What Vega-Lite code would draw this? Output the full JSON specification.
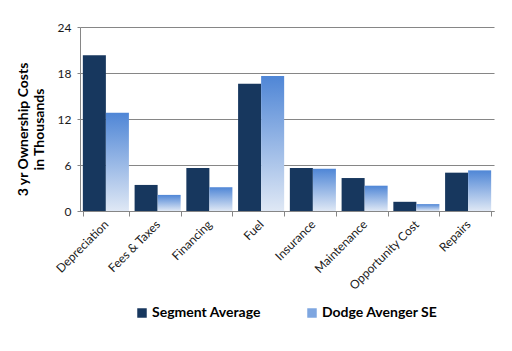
{
  "$schema": "https://vega.github.io/schema/vega-lite/v6.json",
  "width": 414,
  "height": 184,
  "autosize": "none",
  "padding": {"left": 80, "top": 27, "right": 18, "bottom": 140},
  "background": "white",
  "config": {
    "font": "Lato",
    "view": {"stroke": null},
    "axis": {"labelFont": "Lato", "titleFont": "Lato", "labelColor": "#1a1a1a", "domainColor": "#868686", "tickColor": "#868686", "gridColor": "#868686"}
  },
  "data": {
    "values": [
      {"category": "Depreciation", "series": "Segment Average", "value": 20.3},
      {"category": "Depreciation", "series": "Dodge Avenger SE", "value": 12.8},
      {"category": "Fees & Taxes", "series": "Segment Average", "value": 3.4},
      {"category": "Fees & Taxes", "series": "Dodge Avenger SE", "value": 2.1},
      {"category": "Financing", "series": "Segment Average", "value": 5.6},
      {"category": "Financing", "series": "Dodge Avenger SE", "value": 3.1},
      {"category": "Fuel", "series": "Segment Average", "value": 16.6},
      {"category": "Fuel", "series": "Dodge Avenger SE", "value": 17.6},
      {"category": "Insurance", "series": "Segment Average", "value": 5.6},
      {"category": "Insurance", "series": "Dodge Avenger SE", "value": 5.5},
      {"category": "Maintenance", "series": "Segment Average", "value": 4.3},
      {"category": "Maintenance", "series": "Dodge Avenger SE", "value": 3.3},
      {"category": "Opportunity Cost", "series": "Segment Average", "value": 1.2},
      {"category": "Opportunity Cost", "series": "Dodge Avenger SE", "value": 0.9},
      {"category": "Repairs", "series": "Segment Average", "value": 5.0},
      {"category": "Repairs", "series": "Dodge Avenger SE", "value": 5.3}
    ]
  },
  "mark": {"type": "bar"},
  "encoding": {
    "x": {
      "field": "category", "type": "nominal", "sort": null,
      "scale": {"paddingInner": 0.11, "paddingOuter": 0.055},
      "axis": {"title": null, "labelAngle": -45, "labelAlign": "right", "labelBaseline": "middle", "labelFontSize": 12, "labelPadding": 6, "tickBand": "extent", "tickSize": 5, "domainColor": "#868686", "grid": false}
    },
    "xOffset": {"field": "series", "type": "nominal", "sort": ["Segment Average", "Dodge Avenger SE"], "scale": {"paddingInner": 0, "paddingOuter": 0}},
    "y": {
      "field": "value", "type": "quantitative",
      "scale": {"domain": [0, 24]},
      "axis": {"values": [0, 6, 12, 18, 24], "title": ["3 yr Ownership Costs", "in Thousands"], "titleFontSize": 14, "titleFontWeight": "bold", "titleColor": "#000000", "titlePadding": 11, "titleLineHeight": 16, "titleY": 102, "labelFontSize": 12, "tickSize": 3, "labelPadding": 6, "grid": true, "gridWidth": 1.2}
    },
    "color": {
      "field": "series", "type": "nominal",
      "scale": {"domain": ["Segment Average", "Dodge Avenger SE"], "range": ["#17375e", "#7ea6e0"]},
      "condition": {
        "test": "datum.series === 'Dodge Avenger SE'",
        "value": {"gradient": "linear", "x1": 0, "y1": 0, "x2": 0, "y2": 1, "stops": [{"offset": 0, "color": "#4f86d6"}, {"offset": 1, "color": "#dfe8f5"}]}
      },
      "legend": {
        "title": null,
        "orient": "none",
        "legendX": 55,
        "legendY": 279,
        "direction": "horizontal",
        "symbolType": "square",
        "symbolSize": 90,
        "symbolStrokeWidth": 0,
        "labelFontSize": 14,
        "labelFontWeight": "bold",
        "labelColor": "#000000",
        "labelOffset": 3,
        "columnPadding": 44,
        "encode": {
          "symbols": {
            "update": {
              "fill": {"signal": "datum.value === 'Dodge Avenger SE' ? {gradient: 'linear', x1: 0, y1: 0, x2: 0, y2: 1, stops: [{offset: 0, color: '#4f86d6'}, {offset: 1, color: '#dfe8f5'}]} : '#17375e'"},
              "opacity": {"value": 1}
            }
          }
        }
      }
    }
  }
}
